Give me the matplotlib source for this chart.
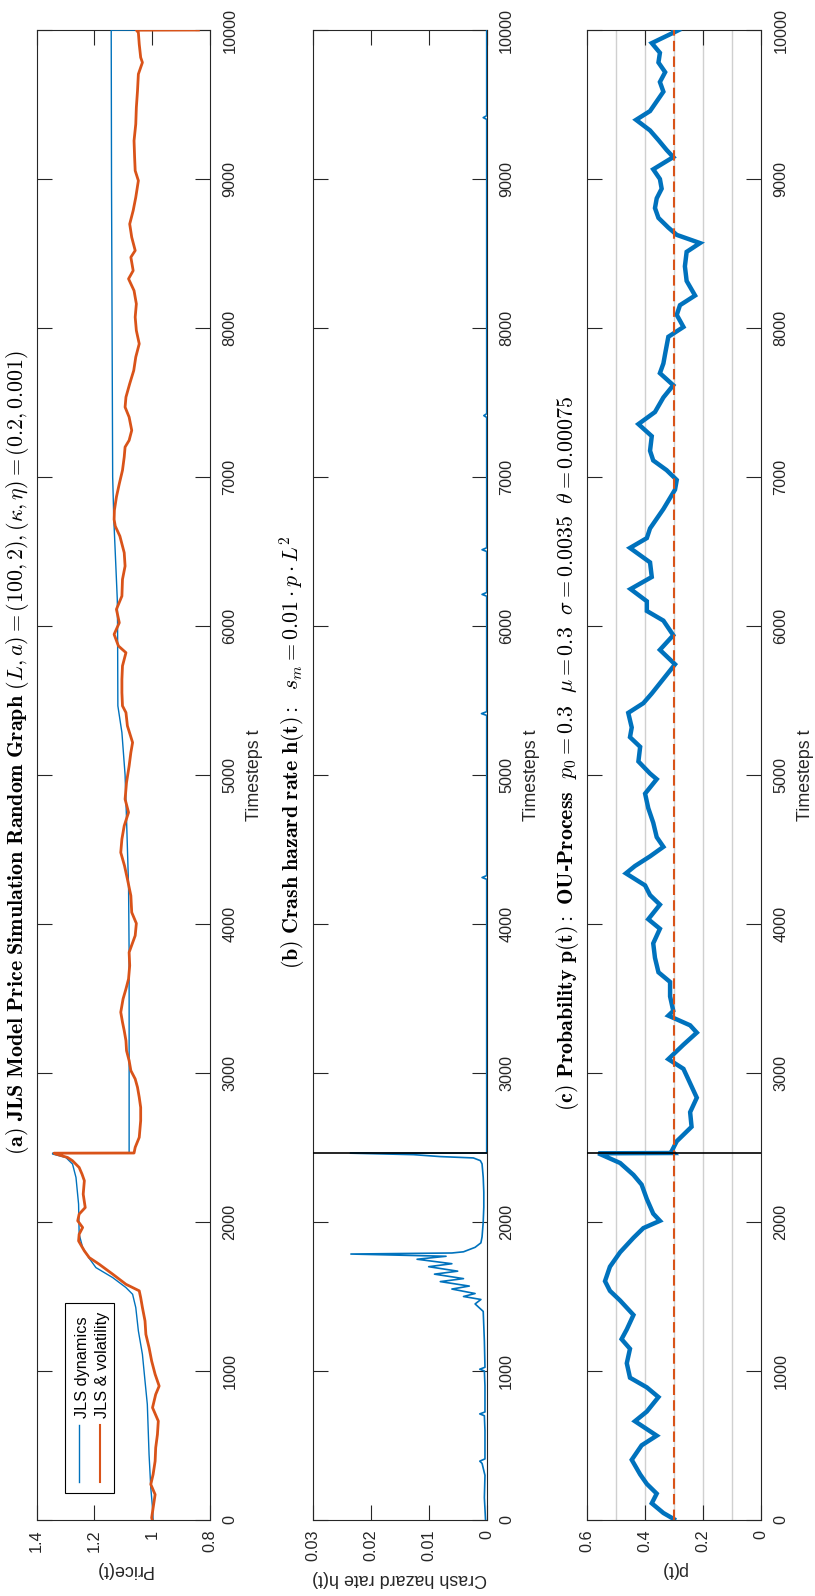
import matplotlib
matplotlib.use("Agg")
import matplotlib.pyplot as plt
from matplotlib.patches import Rectangle

plt.rcParams['font.family'] = ['Liberation Sans', 'DejaVu Sans']
plt.rcParams['mathtext.fontset'] = 'cm'

BLUE = '#0072BD'
ORANGE = '#D95319'
AXC = '#262626'

# ---------------- data ----------------
T_CRASH = 2463

# (a) JLS dynamics (blue, smooth)
jls_t = [0, 82, 216, 440, 776, 933, 1112, 1269, 1426, 1515, 1560, 1627, 1694, 1761, 1829,
         1918, 2120, 2299, 2389, 2433, 2456, 2462,
         2463, 3000, 3800, 4257, 4704, 5000, 5285, 5464, 6000, 6179, 6492, 6715, 7000,
         8000, 9000, 9999, 10000]
jls_v = [0.997, 0.999, 1.005, 1.011, 1.017, 1.025, 1.034, 1.048, 1.057, 1.068, 1.091, 1.137,
         1.195, 1.220, 1.241, 1.253, 1.255, 1.264, 1.276, 1.299, 1.345, 1.345,
         1.080, 1.080, 1.080, 1.082, 1.089, 1.094, 1.105, 1.119, 1.120, 1.121, 1.128, 1.133,
         1.137, 1.139, 1.141, 1.142, 0.840]

# (a) JLS & volatility (orange, noisy)
vol_t = [0, 15, 82, 171, 239, 306, 395, 485, 574, 664, 754, 843, 899, 978, 1067, 1157, 1246,
         1336, 1426, 1493, 1538, 1582, 1650, 1717, 1761, 1806, 1873, 1918, 1963, 2008, 2053,
         2097, 2187, 2277, 2321, 2366, 2411, 2433, 2456, 2462,
         2463, 2501, 2568, 2680, 2769, 2837, 2904, 2960, 3016, 3083, 3150, 3217, 3284, 3341,
         3408, 3497, 3564, 3631, 3721, 3810, 3922, 4004, 4078, 4190, 4302, 4391, 4480, 4570,
         4659, 4749, 4838, 4950, 5061, 5151, 5218, 5330, 5419, 5464, 5553, 5642, 5732, 5821,
         5866, 5944, 6022, 6112, 6201, 6313, 6402, 6492, 6603, 6670, 6715, 6777, 6866, 6955,
         7045, 7134, 7201, 7246, 7313, 7402, 7469, 7536, 7626, 7715, 7805, 7894, 7983, 8073,
         8162, 8251, 8330, 8385, 8475, 8520, 8609, 8698, 8788, 8877, 8989, 9056, 9145, 9257,
         9369, 9480, 9592, 9704, 9782, 9816, 9905, 9983, 9999, 10000]
vol_v = [1.000, 1.002, 0.997, 0.990, 1.005, 0.997, 0.990, 0.988, 0.982, 0.979, 0.999, 0.988,
         0.976, 0.990, 1.002, 1.011, 1.022, 1.025, 1.034, 1.040, 1.045, 1.091, 1.137, 1.184,
         1.218, 1.235, 1.255, 1.253, 1.241, 1.258, 1.253, 1.232, 1.239, 1.235, 1.243, 1.253,
         1.276, 1.293, 1.333, 1.340,
         1.063, 1.059, 1.045, 1.040, 1.040, 1.045, 1.051, 1.059, 1.074, 1.080, 1.089, 1.091,
         1.097, 1.103, 1.109, 1.101, 1.091, 1.082, 1.078, 1.080, 1.059, 1.055, 1.071, 1.074,
         1.086, 1.096, 1.109, 1.105, 1.097, 1.082, 1.094, 1.089, 1.080, 1.074, 1.068, 1.086,
         1.091, 1.103, 1.105, 1.105, 1.103, 1.091, 1.117, 1.132, 1.114, 1.124, 1.105, 1.103,
         1.094, 1.097, 1.112, 1.128, 1.132, 1.131, 1.124, 1.114, 1.103, 1.097, 1.094, 1.080,
         1.071, 1.080, 1.094, 1.091, 1.078, 1.064, 1.057, 1.045, 1.055, 1.059, 1.055, 1.063,
         1.082, 1.066, 1.074, 1.059, 1.071, 1.078, 1.066, 1.057, 1.048, 1.059, 1.061, 1.063,
         1.057, 1.055, 1.051, 1.048, 1.034, 1.040, 1.045, 1.048, 1.055, 0.840]

# (b) crash hazard rate h(t)
haz_t = [0, 150, 300, 380, 395, 410, 600, 700, 712, 725, 900, 1000, 1012, 1025, 1200, 1400,
         1450, 1480, 1500, 1520, 1550, 1570, 1600, 1620, 1650, 1670, 1700, 1720, 1750, 1770,
         1785, 1792, 1800, 1830, 1860, 1900, 2000, 2100, 2200, 2300, 2390, 2412, 2430, 2439,
         2452, 2462, 2463, 3000, 4300, 4312, 4325, 5400, 5412, 5425, 6200, 6212, 6225, 6500,
         6512, 6525, 7400, 7412, 7425, 9400, 9412, 9425, 10000]
haz_v = [0.0002, 0.0004, 0.0003, 0.0008, 0.0012, 0.0003, 0.0003, 0.0004, 0.0012, 0.0003,
         0.0003, 0.0004, 0.0012, 0.0003, 0.0004, 0.0006, 0.0020, 0.0010, 0.0040, 0.0020,
         0.0060, 0.0030, 0.0080, 0.0040, 0.0090, 0.0050, 0.0100, 0.0060, 0.0120, 0.0070,
         0.0234, 0.0060, 0.0040, 0.0020, 0.0010, 0.0008, 0.0006, 0.0005, 0.0005, 0.0006,
         0.0008, 0.0011, 0.0023, 0.0080, 0.0126, 0.0235, 0.0000, 0.0000, 0.0000, 0.0008,
         0.0000, 0.0000, 0.0009, 0.0000, 0.0000, 0.0008, 0.0000, 0.0000, 0.0008, 0.0000,
         0.0000, 0.0005, 0.0000, 0.0000, 0.0006, 0.0000, 0.0000]

# (c) probability p(t), OU process
p_t = [0, 5, 47, 112, 177, 242, 306, 404, 501, 566, 663, 728, 825, 890, 955, 1052, 1149,
       1214, 1279, 1376, 1473, 1538, 1603, 1700, 1797, 1894, 1959, 2008, 2056, 2154, 2251,
       2316, 2396, 2461, 2463, 2477, 2542, 2639, 2737, 2834, 2931, 3028, 3093, 3125, 3190,
       3271, 3320, 3385, 3417, 3514, 3611, 3676, 3773, 3870, 3968, 4032, 4130, 4194, 4259,
       4340, 4389, 4454, 4518, 4583, 4680, 4777, 4875, 4972, 5010, 5091, 5189, 5254, 5319,
       5417, 5482, 5547, 5645, 5743, 5840, 5938, 6036, 6101, 6166, 6248, 6329, 6427, 6524,
       6590, 6655, 6785, 6915, 6980, 7046, 7111, 7176, 7274, 7355, 7436, 7534, 7616, 7697,
       7762, 7827, 7941, 8007, 8088, 8153, 8218, 8316, 8414, 8511, 8570, 8625, 8674, 8739,
       8805, 8870, 8935, 9000, 9065, 9147, 9195, 9261, 9326, 9397, 9456, 9521, 9586, 9651,
       9717, 9782, 9847, 9912, 9993, 10000]
p_v = [0.300, 0.299, 0.336, 0.376, 0.359, 0.393, 0.416, 0.445, 0.411, 0.359, 0.434, 0.393,
       0.353, 0.393, 0.451, 0.462, 0.451, 0.480, 0.462, 0.439, 0.485, 0.520, 0.537, 0.520,
       0.485, 0.439, 0.405, 0.348, 0.371, 0.393, 0.411, 0.439, 0.485, 0.560, 0.300, 0.307,
       0.290, 0.239, 0.244, 0.221, 0.244, 0.267, 0.319, 0.302, 0.267, 0.221, 0.244, 0.319,
       0.302, 0.313, 0.313, 0.353, 0.365, 0.371, 0.348, 0.388, 0.348, 0.382, 0.399, 0.465,
       0.434, 0.382, 0.336, 0.359, 0.371, 0.388, 0.399, 0.359, 0.382, 0.422, 0.416, 0.451,
       0.445, 0.457, 0.405, 0.376, 0.336, 0.296, 0.348, 0.302, 0.336, 0.393, 0.393, 0.449,
       0.376, 0.382, 0.451, 0.393, 0.382, 0.336, 0.296, 0.290, 0.325, 0.371, 0.382, 0.376,
       0.422, 0.365, 0.336, 0.302, 0.348, 0.336, 0.330, 0.319, 0.267, 0.290, 0.279, 0.227,
       0.256, 0.262, 0.256, 0.210, 0.290, 0.319, 0.353, 0.365, 0.359, 0.342, 0.348, 0.371,
       0.302, 0.325, 0.353, 0.382, 0.430, 0.382, 0.359, 0.336, 0.348, 0.330, 0.353, 0.348,
       0.376, 0.290, 0.300]
P_MU = 0.3
p_grid = [0.1, 0.2, 0.3, 0.4, 0.5]

time_ticks = [0, 1000, 2000, 3000, 4000, 5000, 6000, 7000, 8000, 9000, 10000]
price_ticks = [0.8, 1.0, 1.2, 1.4]
price_labels = ['0.8', '1', '1.2', '1.4']
haz_ticks = [0, 0.01, 0.02, 0.03]
haz_labels = ['0', '0.01', '0.02', '0.03']
p_ticks = [0, 0.2, 0.4, 0.6]
p_labels = ['0', '0.2', '0.4', '0.6']

titles = [
    r"$\mathbf{(a)\ JLS\ Model\ Price\ Simulation\ Random\ Graph}\ (L,a)=(100,2),(\kappa,\eta)=(0.2,0.001)$",
    r"$\mathbf{(b)\ Crash\ hazard\ rate\ h(t):}\ \ s_m=0.01\cdot p\cdot L^2$",
    "$\\mathbf{(c)\\ Probability\\ p(t):\\ OU\u2010Process}\\ \\ p_0=0.3\\ \\ \\mu=0.3\\ \\ \\sigma=0.0035\\ \\ \\theta=0.00075$",
]
value_labels = ['Price(t)', 'Crash hazard rate h(t)', 'p(t)']
legend_labels = ['JLS dynamics', 'JLS & volatility']

# ---------------- figure ----------------
fig = plt.figure(figsize=(8.15, 15.96), dpi=100)
bottom, height = 0.04762, 0.93358
ax_a = fig.add_axes([0.04503, bottom, 0.21264, height])
ax_b = fig.add_axes([0.38356, bottom, 0.21362, height])
ax_c = fig.add_axes([0.71988, bottom, 0.21387, height])

ax_a.plot(jls_v, jls_t, color=BLUE, lw=1.0, zorder=3)
ax_a.plot(vol_v, vol_t, color=ORANGE, lw=2.0, zorder=4)

ax_b.plot(haz_v, haz_t, color=BLUE, lw=1.2, zorder=3)
ax_b.axhline(T_CRASH, color='black', lw=1.2, zorder=5)

for g in p_grid:
    ax_c.axvline(g, color='#d0d0d0', lw=1.0, zorder=1)
ax_c.plot(p_v, p_t, color=BLUE, lw=3.2, zorder=3, solid_joinstyle='miter')
ax_c.axvline(P_MU, color=ORANGE, lw=1.5, dashes=(5, 2.5), zorder=4)
ax_c.axhline(T_CRASH, color='black', lw=1.2, zorder=5)

specs = [(ax_a, (1.4, 0.8), price_ticks, price_labels),
         (ax_b, (0.03, 0.0), haz_ticks, haz_labels),
         (ax_c, (0.6, 0.0), p_ticks, p_labels)]

for i, (ax, xl, xt, xtl) in enumerate(specs):
    ax.set_xlim(*xl)
    ax.set_ylim(0, 10000)
    ax.set_xticks(xt)
    ax.set_xticklabels(xtl, rotation=90, ha='center', va='top')
    ax.set_yticks(time_ticks)
    ax.set_yticklabels([str(t) for t in time_ticks], rotation=90, va='center', ha='left')
    ax.tick_params(direction='in', length=10.8, width=0.8, color=AXC, labelcolor=AXC,
                   labelsize=11.7, top=True, bottom=True, left=True, right=True,
                   labelleft=False, labelright=True, labelbottom=True, labeltop=False)
    ax.tick_params(axis='x', pad=7)
    ax.tick_params(axis='y', pad=9)
    for sp in ax.spines.values():
        sp.set_color(AXC)
        sp.set_linewidth(0.8)
    ax.set_xlabel(value_labels[i], rotation=180, fontsize=12.9, color=AXC, labelpad=6)
    ax.yaxis.set_label_position('right')
    ax.set_ylabel('Timesteps t', rotation=90, fontsize=12.9, color=AXC, labelpad=6)
    ax.text(-0.035, 0.515, titles[i], transform=ax.transAxes, rotation=90,
            ha='right', va='center', fontsize=15.8, color='black')

# legend of panel (a), drawn rotated like the rest of the chart
ax_a.add_patch(Rectangle((0.163, 0.018), 0.283, 0.1276, transform=ax_a.transAxes,
                         facecolor='white', edgecolor='black', lw=0.8, zorder=6))
for x_h, x_t, col, lab in [(0.244, 0.262, BLUE, legend_labels[0]),
                            (0.365, 0.381, ORANGE, legend_labels[1])]:
    ax_a.plot([x_h, x_h], [0.0255, 0.0638], transform=ax_a.transAxes, color=col,
              lw=1.0 if col == BLUE else 1.5, zorder=7)
    ax_a.text(x_t, 0.0685, lab, transform=ax_a.transAxes, rotation=90, ha='center',
              va='bottom', fontsize=11.7, color='black', zorder=7)

fig.savefig('out.png', dpi=100)
